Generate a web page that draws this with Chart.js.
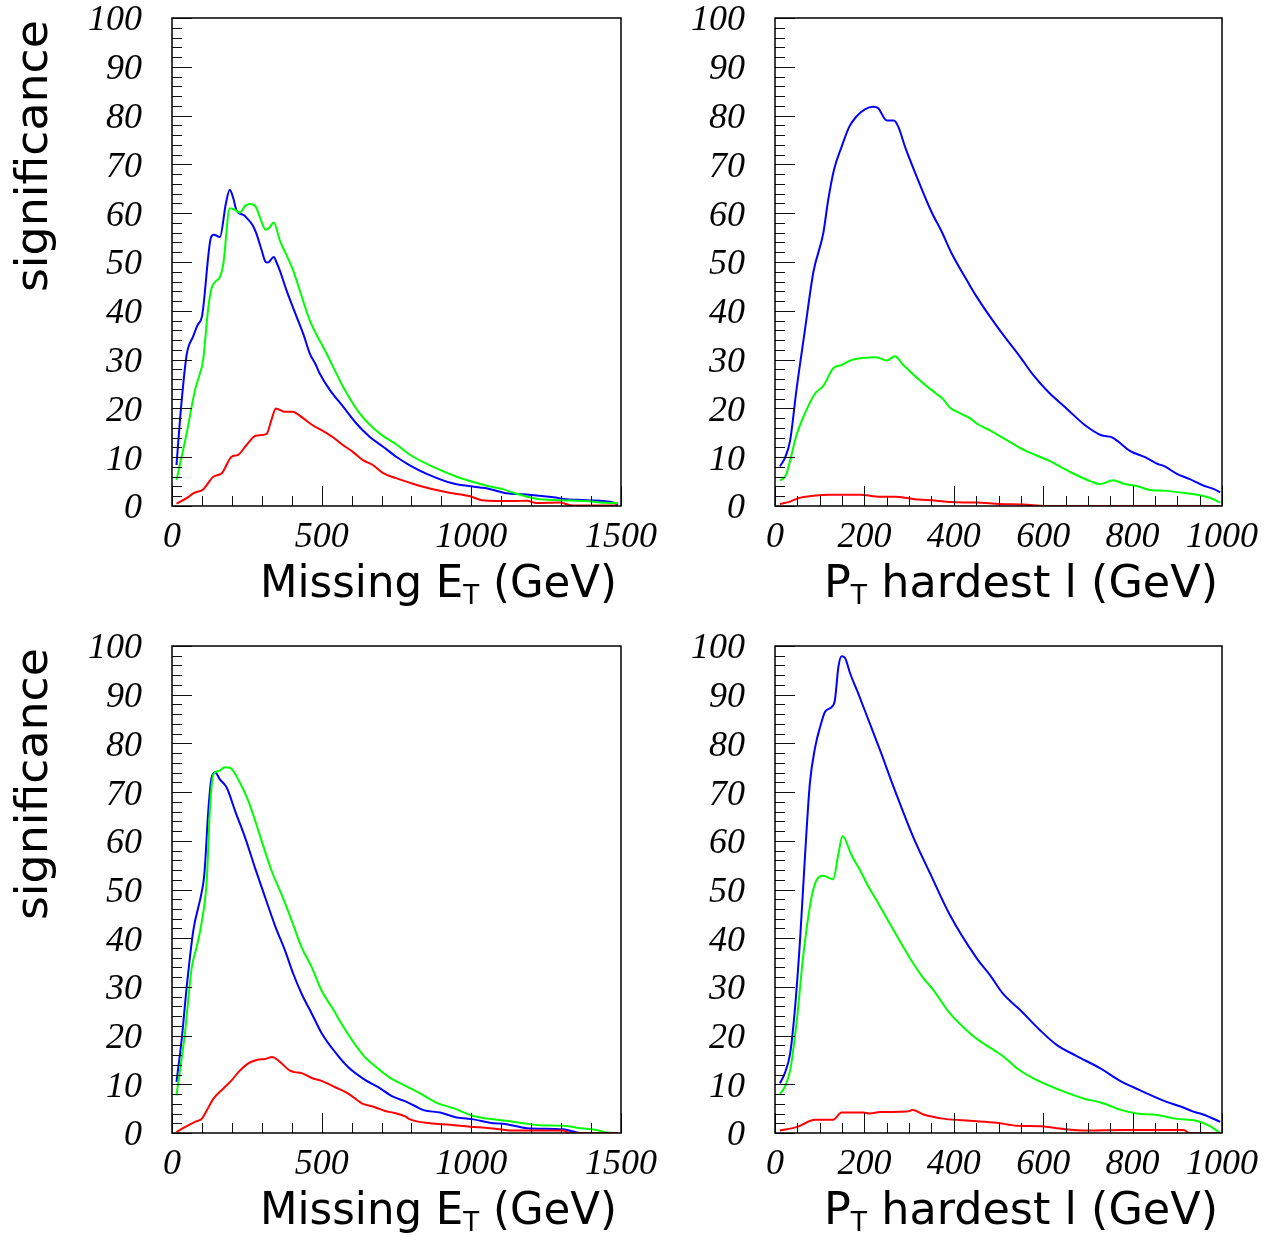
<!DOCTYPE html>
<html>
<head>
<meta charset="utf-8">
<script src="https://cdn.jsdelivr.net/npm/chart.js@4.4.1/dist/chart.umd.min.js"></script>
<style>
  html, body { margin: 0; padding: 0; background: #ffffff; }
  #wrap { position: relative; width: 1274px; height: 1237px; overflow: hidden; }
  #wrap canvas { position: absolute; left: 0; top: 0; }
</style>
</head>
<body>
<div id="wrap">
  <canvas id="met1" width="1274" height="1237"></canvas>
  <canvas id="pt1" width="1274" height="1237"></canvas>
  <canvas id="met2" width="1274" height="1237"></canvas>
  <canvas id="pt2" width="1274" height="1237"></canvas>
</div>
<script>
// ---------- axis ranges and tick labels ----------
const sigTicks = [0, 10, 20, 30, 40, 50, 60, 70, 80, 90, 100];
const metTicks = [0, 500, 1000, 1500];
const ptTicks = [0, 200, 400, 600, 800, 1000];

// ---------- row 1, missing transverse energy ----------
const met1BlueX = [15, 30, 49, 71, 85, 100, 105, 130, 140, 160, 180, 193, 205, 216, 240, 250, 270, 282, 299, 313, 320, 340, 350, 360, 382, 416, 440, 460, 480, 493, 527, 571, 616, 660, 704, 749, 793, 851, 940, 1029, 1060, 1118, 1174, 1274, 1318, 1385, 1474, 1490];
const met1BlueY = [8.4, 20, 31, 34.8, 37, 38.8, 41, 55, 55.6, 55.1, 62, 64.8, 63, 60.5, 59.6, 59, 57.5, 55.8, 52.5, 50, 49.9, 51, 49.8, 48.3, 44.3, 38.8, 35, 31.3, 29, 27.2, 23.8, 20.4, 16.9, 14.2, 12.2, 10.1, 8.4, 6.6, 4.6, 3.8, 3.5, 2.6, 2.4, 1.8, 1.4, 1.2, 0.7, 0.3];
const met1GreenX = [15, 49, 77, 90, 104, 120, 132, 145, 160, 171, 193, 210, 227, 245, 260, 280, 293, 313, 325, 340, 360, 404, 460, 516, 571, 627, 693, 750, 795, 884, 951, 1062, 1107, 1151, 1218, 1296, 1385, 1430, 1490];
const met1GreenY = [5.3, 14.9, 23.8, 26.5, 29.9, 40, 44.6, 46, 46.9, 49.4, 61, 60.7, 60.1, 61.5, 61.9, 61.3, 59.3, 56.6, 57, 58.1, 54.5, 48.4, 38.1, 31.3, 24.5, 19, 14.9, 12.6, 10.5, 7.7, 6.0, 4.0, 3.4, 2.5, 1.5, 1.2, 1.0, 0.7, 0.6];
const met1RedX = [15, 49, 71, 104, 138, 166, 199, 221, 249, 280, 316, 332, 347, 377, 402, 438, 471, 504, 538, 571, 604, 638, 671, 704, 749, 793, 829, 918, 996, 1035, 1141, 1185, 1218, 1296, 1335, 1490];
const met1RedY = [0.5, 1.6, 2.6, 3.4, 6, 6.7, 10.1, 10.5, 12.5, 14.4, 14.8, 17.6, 20, 19.3, 19.3, 18, 16.5, 15.4, 14.1, 12.5, 11.1, 9.4, 8.4, 6.8, 5.7, 4.8, 4.1, 2.8, 2.0, 1.2, 1.0, 1.1, 0.6, 0.7, 0.1, 0.1];

// ---------- row 1, transverse momentum of the hardest lepton ----------
const pt1BlueX = [11, 22, 34, 48, 67, 86, 108, 119, 132, 149, 166, 183, 201, 220, 231, 250, 266, 276, 291, 317, 350, 373, 395, 429, 451, 481, 511, 548, 578, 611, 652, 693, 730, 753, 768, 794, 828, 854, 872, 899, 928, 958, 981, 996];
const pt1BlueY = [8.1, 9.8, 13.5, 23.8, 36.1, 48, 55.9, 62.7, 68.9, 73.6, 77.7, 79.9, 81.3, 81.8, 81.5, 79, 79, 77.7, 73.6, 67.5, 60.3, 56.2, 51.8, 46.3, 42.9, 38.8, 35, 30.6, 26.8, 23.4, 20, 16.6, 14.5, 14.1, 13.2, 11.3, 10, 8.7, 8.1, 6.6, 5.5, 4.2, 3.5, 2.8];
const pt1GreenX = [11, 25, 34, 48, 67, 90, 108, 130, 149, 171, 201, 227, 250, 268, 287, 332, 361, 376, 391, 417, 436, 451, 481, 515, 552, 615, 660, 708, 727, 757, 779, 809, 839, 876, 914, 951, 973, 996];
const pt1GreenY = [5.2, 6.4, 9.4, 14.5, 19, 23.1, 24.6, 28.2, 28.9, 29.9, 30.4, 30.5, 29.8, 30.7, 28.9, 25.1, 23, 21.9, 20.2, 18.9, 18, 16.9, 15.5, 13.7, 11.7, 9.2, 7, 5, 4.5, 5.3, 4.6, 4.1, 3.3, 3.1, 2.7, 2.2, 1.7, 0.7];
const pt1RedX = [11, 34, 52, 86, 123, 190, 235, 268, 313, 361, 391, 451, 503, 555, 608, 996];
const pt1RedY = [0.4, 0.9, 1.6, 2.1, 2.3, 2.3, 1.9, 1.9, 1.4, 1.1, 0.8, 0.7, 0.4, 0.3, 0, 0];

// ---------- row 2, missing transverse energy ----------
const met2BlueX = [15, 32, 49, 71, 99, 108, 122, 132, 144, 160, 183, 211, 244, 277, 311, 344, 378, 405, 433, 467, 500, 545, 589, 645, 689, 740, 784, 840, 896, 951, 1007, 1062, 1118, 1185, 1307, 1341, 1363, 1490];
const met2BlueY = [10.5, 19, 29.9, 41.5, 49.4, 53.1, 66.8, 72.9, 74.1, 72.6, 70.9, 66.1, 60.7, 54.5, 48.4, 42.6, 37.4, 32.7, 28.6, 24.5, 20.5, 16.6, 13.5, 10.9, 9.4, 7.4, 6.4, 4.7, 4.2, 3.2, 2.8, 2.1, 1.8, 1.0, 0.75, 0.3, 0, 0];
const met2GreenX = [15, 43, 66, 82, 99, 116, 127, 138, 155, 177, 194, 227, 255, 289, 333, 366, 400, 433, 467, 500, 534, 584, 640, 689, 734, 773, 818, 884, 940, 1007, 1040, 1118, 1174, 1229, 1307, 1352, 1419, 1452, 1490];
const met2GreenY = [7.7, 20.4, 34, 38.1, 43.2, 51.8, 66.8, 73.6, 74.3, 75.1, 75, 71.9, 68.2, 62, 53.8, 49, 43.6, 38.1, 34, 29.2, 25.8, 20.7, 15.9, 13.2, 11.1, 9.9, 8.5, 6.2, 5.1, 3.5, 3.1, 2.5, 2.0, 1.6, 1.5, 1.1, 0.6, 0.1, 0];
const met2RedX = [15, 43, 77, 99, 116, 138, 171, 199, 222, 255, 283, 311, 335, 355, 394, 411, 433, 467, 500, 545, 589, 634, 678, 712, 745, 779, 795, 862, 929, 996, 1062, 1096, 1129, 1307, 1330, 1490];
const met2RedY = [0.2, 1.2, 2.3, 2.9, 4.6, 7, 9.1, 10.8, 12.5, 14.3, 15, 15.2, 15.6, 14.9, 12.8, 12.5, 12.3, 11.3, 10.7, 9.4, 8.1, 6.1, 5.3, 4.5, 4.1, 3.4, 2.8, 2.0, 1.7, 1.3, 1.0, 0.75, 0.5, 0.5, 0, 0];

// ---------- row 2, transverse momentum of the hardest lepton ----------
const pt2BlueX = [11, 22, 34, 45, 56, 67, 78, 90, 101, 112, 127, 134, 142, 149, 157, 168, 186, 212, 235, 268, 309, 347, 391, 451, 481, 511, 548, 593, 630, 675, 727, 772, 816, 876, 906, 936, 958, 996];
const pt2BlueY = [10.2, 12.3, 16.4, 25.9, 39.6, 56.7, 71.8, 79.3, 83.4, 86.5, 87.5, 88.9, 95.8, 97.9, 97.5, 94.4, 90.3, 84.1, 78.6, 70.4, 60.8, 53.3, 44.8, 35.9, 32.4, 28.5, 25.3, 21.1, 18.1, 15.8, 13.3, 10.7, 8.8, 6.4, 5.5, 4.4, 3.8, 2.3];
const pt2GreenX = [11, 22, 34, 48, 63, 78, 90, 108, 130, 142, 151, 171, 190, 209, 227, 265, 302, 332, 354, 391, 436, 466, 490, 511, 541, 585, 638, 690, 727, 776, 809, 854, 899, 943, 973, 996];
const pt2GreenY = [8, 9.5, 12.9, 22.5, 36.2, 46.5, 51.3, 52.8, 52.1, 57.4, 61, 57.1, 54, 50.6, 47.8, 41.7, 35.9, 31.8, 29.4, 24.6, 20.5, 18.4, 17, 15.7, 13.3, 10.9, 8.8, 7.1, 6.3, 4.7, 4, 3.7, 2.9, 2.5, 1.4, 0];
const pt2RedX = [11, 48, 90, 130, 149, 197, 212, 235, 295, 308, 332, 380, 436, 496, 541, 593, 630, 697, 779, 914, 928, 996];
const pt2RedY = [0.5, 1.2, 2.7, 2.7, 4.2, 4.2, 4.0, 4.3, 4.4, 4.7, 3.8, 2.9, 2.5, 2.1, 1.5, 1.4, 1.0, 0.5, 0.6, 0.6, 0, 0];

// ---------- drawing ----------
const PAGE_W = 1274, PAGE_H = 1237;
const Y_AXIS_W = 172;   // room for the y tick labels
const X_AXIS_H = 100;   // room for the x tick labels
const TICK_FONT = { family: '"Liberation Serif", "Times New Roman", serif', style: 'italic', size: 36 };
const TITLE_FAMILY = '"DejaVu Sans", sans-serif';
const plainNumber = v => String(v);

const metTitle = [{ t: 'Missing E' }, { t: 'T', sub: true }, { t: ' (GeV)' }];
const ptTitle = [{ t: 'P' }, { t: 'T', sub: true }, { t: ' hardest l (GeV)' }];

// Frame, inner ROOT-style ticks and axis titles
const frameTicks = {
  id: 'frameTicks',
  afterDatasetsDraw(chart, args, o) {
    const { ctx, chartArea: a, scales: { x, y } } = chart;
    ctx.save();
    ctx.strokeStyle = '#111';
    ctx.lineWidth = 1;
    ctx.beginPath();
    for (let v = 0; v <= 100; v += 2) {
      const py = Math.round(y.getPixelForValue(v)) + 0.5;
      const len = (v % 10 === 0) ? 20 : 10;
      ctx.moveTo(a.left, py); ctx.lineTo(a.left + len, py);
    }
    for (let v = 0; v <= o.xMax; v += o.xMinor) {
      const px = Math.round(x.getPixelForValue(v)) + 0.5;
      const len = (v % o.xMajor === 0) ? 20 : 10;
      ctx.moveTo(px, a.bottom); ctx.lineTo(px, a.bottom - len);
    }
    ctx.stroke();
    ctx.strokeStyle = '#000';
    ctx.lineWidth = 1.5;
    ctx.strokeRect(a.left, a.top, a.right - a.left, a.bottom - a.top);

    // x title, right aligned under the frame
    ctx.fillStyle = '#000';
    const fs = 45;
    const parts = o.title.map(p => {
      const size = p.sub ? Math.round(fs * 0.6) : fs;
      ctx.font = `${size}px ${TITLE_FAMILY}`;
      return { ...p, size, w: ctx.measureText(p.t).width };
    });
    const total = parts.reduce((s, p) => s + p.w, 0);
    const sx = o.titleWidth / total;
    ctx.save();
    ctx.translate(a.right - 4 - o.titleWidth, a.bottom + 91);
    ctx.scale(sx, 1);
    let cx = 0;
    ctx.textBaseline = 'alphabetic';
    ctx.textAlign = 'left';
    for (const p of parts) {
      ctx.font = `${p.size}px ${TITLE_FAMILY}`;
      ctx.fillText(p.t, cx, p.sub ? 7 : 0);
      cx += p.w;
    }
    ctx.restore();

    // y title, rotated, aligned with the top of the frame
    if (o.yTitle) {
      ctx.save();
      ctx.font = `45px ${TITLE_FAMILY}`;
      const w = ctx.measureText(o.yTitle).width;
      ctx.translate(a.left - 125, a.top + 2);
      ctx.rotate(-Math.PI / 2);
      ctx.scale(272 / w, 1);
      ctx.textAlign = 'left';
      ctx.textBaseline = 'alphabetic';
      ctx.fillText(o.yTitle, -w, 0);
      ctx.restore();
    }
    ctx.restore();
  }
};

function series(xs, ys, color) {
  return {
    data: xs.map((v, i) => ({ x: v, y: ys[i] })),
    borderColor: color,
    borderWidth: 2,
    pointRadius: 0,
    fill: false,
    cubicInterpolationMode: 'monotone'
  };
}

function panel(id, frame, xTicks, xMinor, title, titleWidth, yTitle, sets) {
  const xMax = xTicks[xTicks.length - 1];
  return new Chart(document.getElementById(id), {
    type: 'line',
    data: { datasets: sets },
    options: {
      responsive: false,
      animation: false,
      devicePixelRatio: 1,
      layout: {
        padding: {
          left: frame.left - Y_AXIS_W,
          right: PAGE_W - frame.right,
          top: frame.top,
          bottom: PAGE_H - frame.bottom - X_AXIS_H
        }
      },
      plugins: {
        legend: { display: false },
        tooltip: { enabled: false },
        frameTicks: { xMax, xMinor, xMajor: xTicks[1] - xTicks[0], title, titleWidth, yTitle }
      },
      scales: {
        x: {
          type: 'linear', min: 0, max: xMax,
          grid: { display: false }, border: { display: false },
          afterBuildTicks(s) { s.ticks = xTicks.map(v => ({ value: v })); },
          ticks: { font: TICK_FONT, color: '#000', padding: 2, maxRotation: 0, autoSkip: false, callback: plainNumber },
          afterFit(s) { s.height = X_AXIS_H; s.paddingLeft = 0; s.paddingRight = 0; }
        },
        y: {
          type: 'linear', min: 0, max: 100,
          grid: { display: false }, border: { display: false },
          afterBuildTicks(s) { s.ticks = sigTicks.map(v => ({ value: v })); },
          ticks: { font: TICK_FONT, color: '#000', padding: 22, labelOffset: 3, callback: plainNumber },
          afterFit(s) { s.width = Y_AXIS_W; s.paddingTop = 0; s.paddingBottom = 0; }
        }
      }
    },
    plugins: [frameTicks]
  });
}

panel('met1', { left: 172, right: 621, top: 18, bottom: 506 }, metTicks, 100, metTitle, 357, 'significance', [
  series(met1RedX, met1RedY, '#ff0000'),
  series(met1GreenX, met1GreenY, '#00ff00'),
  series(met1BlueX, met1BlueY, '#0000ff')
]);
panel('pt1', { left: 775, right: 1222, top: 18, bottom: 506 }, ptTicks, 50, ptTitle, 394, null, [
  series(pt1RedX, pt1RedY, '#ff0000'),
  series(pt1GreenX, pt1GreenY, '#00ff00'),
  series(pt1BlueX, pt1BlueY, '#0000ff')
]);
panel('met2', { left: 172, right: 621, top: 646, bottom: 1133 }, metTicks, 100, metTitle, 357, 'significance', [
  series(met2RedX, met2RedY, '#ff0000'),
  series(met2GreenX, met2GreenY, '#00ff00'),
  series(met2BlueX, met2BlueY, '#0000ff')
]);
panel('pt2', { left: 775, right: 1222, top: 646, bottom: 1133 }, ptTicks, 50, ptTitle, 394, null, [
  series(pt2RedX, pt2RedY, '#ff0000'),
  series(pt2GreenX, pt2GreenY, '#00ff00'),
  series(pt2BlueX, pt2BlueY, '#0000ff')
]);
</script>
</body>
</html>
